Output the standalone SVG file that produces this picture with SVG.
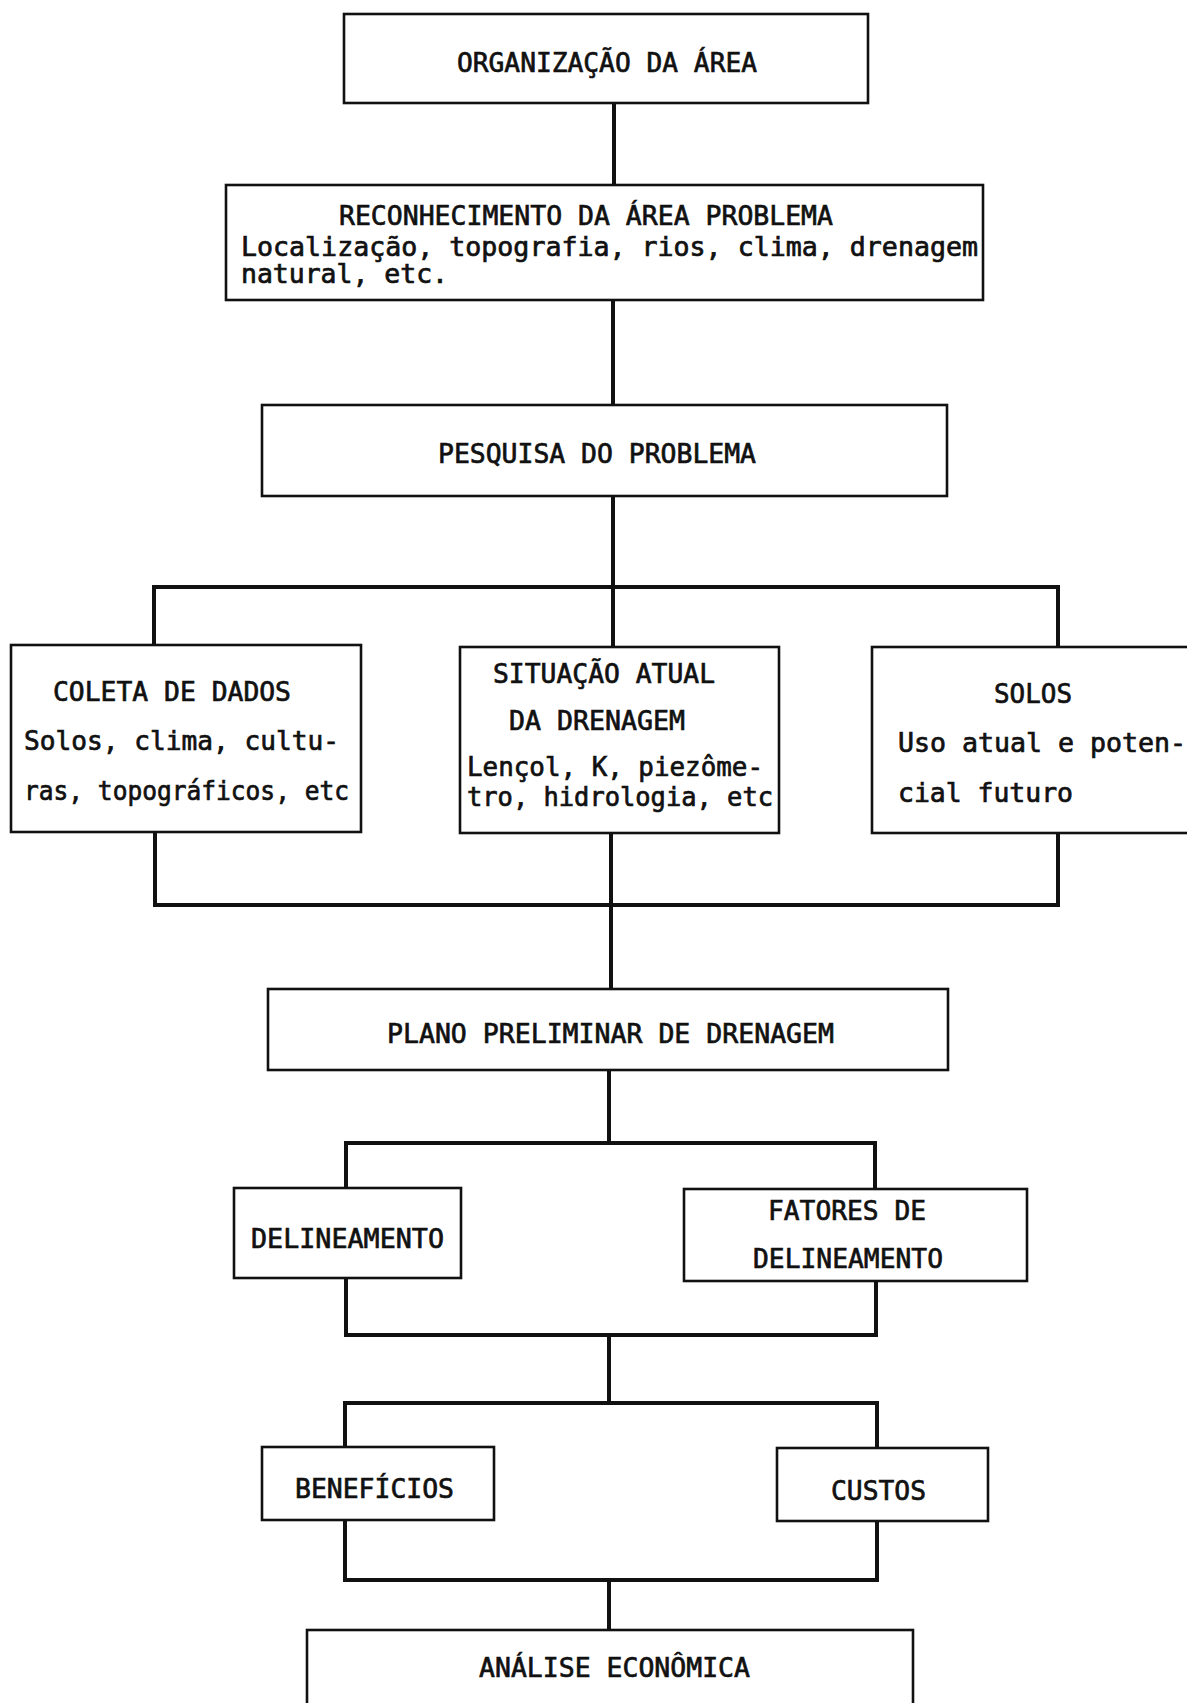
<svg xmlns="http://www.w3.org/2000/svg" width="1187" height="1703" viewBox="0 0 1187 1703">
<style>
.box{fill:#fff;stroke:#111;stroke-width:2.6}
.con{fill:none;stroke:#111;stroke-width:4;stroke-linecap:square}
text{font-family:"DejaVu Sans Mono","Liberation Mono",monospace;font-size:26px;fill:#111;stroke:#111;stroke-width:0.7}
.c{font-size:27px}
</style>
<rect width="1187" height="1703" fill="#fff"/>
<g id="connectors">
<path class="con" d="M614 103V185"/>
<path class="con" d="M613 300V405"/>
<path class="con" d="M613 496V647"/>
<path class="con" d="M154 645V587H1058V647"/>
<path class="con" d="M155 832V905H1058V833"/>
<path class="con" d="M611 833V989"/>
<path class="con" d="M609 1070V1143"/>
<path class="con" d="M346 1188V1143H875V1189"/>
<path class="con" d="M346 1278V1335H876V1281"/>
<path class="con" d="M609 1335V1403"/>
<path class="con" d="M345 1447V1403H877V1448"/>
<path class="con" d="M345 1520V1580H877V1521"/>
<path class="con" d="M609 1580V1630"/>
</g>
<g id="n1"><rect class="box" x="344" y="14" width="524" height="89"/>
<text class="c" x="457" y="72" textLength="300" lengthAdjust="spacingAndGlyphs">ORGANIZAÇÃO DA ÁREA</text></g>
<g id="n2"><rect class="box" x="226" y="185" width="757" height="115"/>
<text class="c" x="339" y="225" textLength="494" lengthAdjust="spacingAndGlyphs">RECONHECIMENTO DA ÁREA PROBLEMA</text>
<text x="241" y="256" textLength="737" lengthAdjust="spacingAndGlyphs">Localização, topografia, rios, clima, drenagem</text>
<text x="241" y="283" textLength="207" lengthAdjust="spacingAndGlyphs">natural, etc.</text></g>
<g id="n3"><rect class="box" x="262" y="405" width="685" height="91"/>
<text class="c" x="438" y="463" textLength="318" lengthAdjust="spacingAndGlyphs">PESQUISA DO PROBLEMA</text></g>
<g id="n4"><rect class="box" x="11" y="645" width="350" height="187"/>
<text class="c" x="53" y="701" textLength="238" lengthAdjust="spacingAndGlyphs">COLETA DE DADOS</text>
<text x="24" y="750" textLength="315" lengthAdjust="spacingAndGlyphs">Solos, clima, cultu-</text>
<text x="24" y="800" textLength="325" lengthAdjust="spacingAndGlyphs">ras, topográficos, etc</text></g>
<g id="n5"><rect class="box" x="460" y="647" width="319" height="186"/>
<text class="c" x="493" y="683" textLength="222" lengthAdjust="spacingAndGlyphs">SITUAÇÃO ATUAL</text>
<text class="c" x="509" y="730" textLength="176" lengthAdjust="spacingAndGlyphs">DA DRENAGEM</text>
<text x="467" y="776" textLength="296" lengthAdjust="spacingAndGlyphs">Lençol, K, piezôme-</text>
<text x="467" y="806" textLength="306" lengthAdjust="spacingAndGlyphs">tro, hidrologia, etc</text></g>
<g id="n6"><rect class="box" x="872" y="647" width="330" height="186"/>
<text class="c" x="994" y="703" textLength="78" lengthAdjust="spacingAndGlyphs">SOLOS</text>
<text x="898" y="752" textLength="288" lengthAdjust="spacingAndGlyphs">Uso atual e poten-</text>
<text x="898" y="802" textLength="175" lengthAdjust="spacingAndGlyphs">cial futuro</text></g>
<g id="n7"><rect class="box" x="268" y="989" width="680" height="81"/>
<text class="c" x="387" y="1043" textLength="447" lengthAdjust="spacingAndGlyphs">PLANO PRELIMINAR DE DRENAGEM</text></g>
<g id="n8"><rect class="box" x="234" y="1188" width="227" height="90"/>
<text class="c" x="251" y="1248" textLength="193" lengthAdjust="spacingAndGlyphs">DELINEAMENTO</text></g>
<g id="n9"><rect class="box" x="684" y="1189" width="343" height="92"/>
<text class="c" x="768" y="1220" textLength="158" lengthAdjust="spacingAndGlyphs">FATORES DE</text>
<text class="c" x="753" y="1268" textLength="190" lengthAdjust="spacingAndGlyphs">DELINEAMENTO</text></g>
<g id="n10"><rect class="box" x="262" y="1447" width="232" height="73"/>
<text class="c" x="295" y="1498" textLength="159" lengthAdjust="spacingAndGlyphs">BENEFÍCIOS</text></g>
<g id="n11"><rect class="box" x="777" y="1448" width="211" height="73"/>
<text class="c" x="831" y="1500" textLength="95" lengthAdjust="spacingAndGlyphs">CUSTOS</text></g>
<g id="n12"><rect class="box" x="307" y="1630" width="606" height="90"/>
<text class="c" x="479" y="1677" textLength="271" lengthAdjust="spacingAndGlyphs">ANÁLISE ECONÔMICA</text></g>
</svg>
